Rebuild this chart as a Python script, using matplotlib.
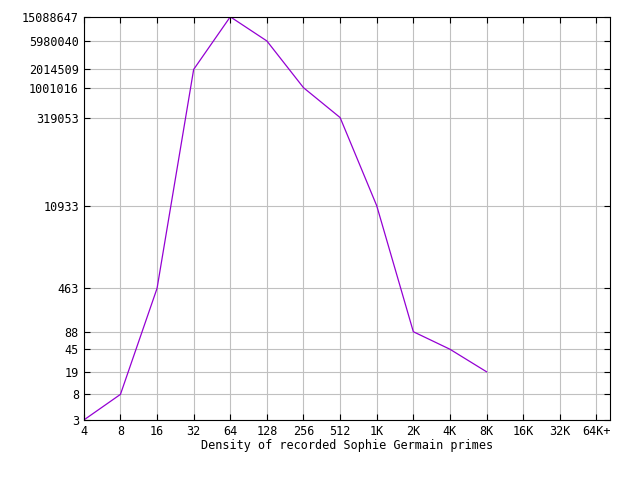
import matplotlib
matplotlib.use('Agg')
import matplotlib.pyplot as plt
import matplotlib.ticker as mtick

plt.rcParams['font.family'] = 'DejaVu Sans Mono'
plt.rcParams['font.size'] = 8.5

x_labels = ['4', '8', '16', '32', '64', '128', '256', '512', '1K', '2K', '4K', '8K', '16K', '32K', '64K+']
counts = [3, 8, 463, 2014509, 15088647, 5980040, 1001016, 319053, 10933, 88, 45, 19]
y_ticks = [3, 8, 19, 45, 88, 463, 10933, 319053, 1001016, 2014509, 5980040, 15088647]

fig = plt.figure(figsize=(6.4, 4.8), dpi=100)
ax = fig.add_axes([0.131, 0.125, 0.822, 0.840])
ax.plot(range(len(counts)), counts, color='#9400d3', linewidth=0.9)
ax.set_yscale('log')
ax.set_ylim(3, 15088647)
ax.set_xlim(0, 14.37)
ax.set_xticks(range(len(x_labels)))
ax.set_xticklabels(x_labels)
ax.yaxis.set_major_locator(mtick.FixedLocator(y_ticks))
ax.yaxis.set_major_formatter(mtick.FixedFormatter([str(v) for v in y_ticks]))
ax.yaxis.set_minor_locator(mtick.NullLocator())
ax.grid(True, color='#c0c0c0', linewidth=0.8)
ax.tick_params(direction='in', top=True, right=True, length=4)
ax.set_xlabel('Density of recorded Sophie Germain primes', labelpad=1)
fig.savefig('out.png')
